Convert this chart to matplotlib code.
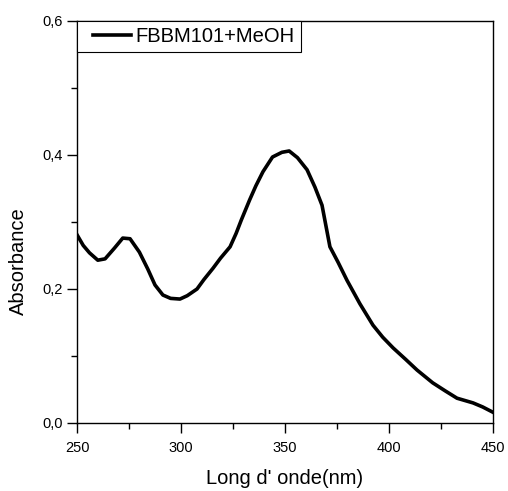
import matplotlib
matplotlib.use("Agg")
import matplotlib.pyplot as plt
from matplotlib.ticker import MultipleLocator, FuncFormatter
from matplotlib.legend_handler import HandlerLine2D
import numpy as np

plt.rcParams['font.family'] = ['Liberation Sans', 'DejaVu Sans']

wavelength = [250, 253, 256, 260, 263.5, 268, 272, 275.5, 280, 284, 287.5, 291.3, 295, 299.5,
              303, 307.7, 311, 315.4, 319, 323.6, 326.5, 329, 333, 336, 339.4, 344, 348.5, 352,
              356, 360.6, 364.4, 367.8, 371.6, 375.5, 379.8, 386, 392.3, 397, 402, 408,
              413.5, 421, 427, 432.7, 440.4, 445, 450]
absorbance = [0.281, 0.265, 0.254, 0.243, 0.245, 0.261, 0.276, 0.275, 0.255, 0.230, 0.206, 0.191,
              0.186, 0.185, 0.190, 0.200, 0.214, 0.231, 0.246, 0.263, 0.283, 0.303, 0.333, 0.354,
              0.375, 0.397, 0.404, 0.406, 0.396, 0.378, 0.352, 0.325, 0.263, 0.240, 0.213, 0.178,
              0.146, 0.128, 0.112, 0.095, 0.079, 0.060, 0.048, 0.037, 0.030, 0.024, 0.016]
series_label = "FBBM101+MeOH"


class OffsetLineHandler(HandlerLine2D):
    def get_xdata(self, legend, xdescent, ydescent, width, height, fontsize):
        start = -xdescent + width * 0.2
        xdata = np.array([start, -xdescent + width])
        return xdata, xdata


fig = plt.figure(figsize=(5.08, 4.91), dpi=100)
ax = fig.add_axes([77/508, 1 - 423/491, 416/508, 402/491])

line, = ax.plot(wavelength, absorbance, color='black', lw=2.6, label=series_label,
                solid_joinstyle='round')

ax.set_xlim(250, 450)
ax.set_ylim(0.0, 0.6)
ax.xaxis.set_major_locator(MultipleLocator(50))
ax.xaxis.set_minor_locator(MultipleLocator(25))
ax.yaxis.set_major_locator(MultipleLocator(0.2))
ax.yaxis.set_minor_locator(MultipleLocator(0.1))
ax.yaxis.set_major_formatter(FuncFormatter(lambda v, p: f"{v:.1f}".replace('.', ',')))
ax.tick_params(which='both', direction='out', width=1, labelsize=10.5, pad=3)
ax.tick_params(which='major', length=7)
ax.tick_params(which='minor', length=4.5)
ax.tick_params(axis='x', pad=6)
for s in ax.spines.values():
    s.set_linewidth(1)

ax.set_xlabel("Long d' onde(nm)", fontsize=14.5, labelpad=10)
ax.set_ylabel("Absorbance", fontsize=14.5)
ax.yaxis.set_label_coords(-0.118, 0.403)

leg = ax.legend(loc='upper left', borderaxespad=0, fontsize=14.5, handlelength=2.4,
                handletextpad=0.2, fancybox=False, edgecolor='black', framealpha=1,
                borderpad=0.3, handler_map={line: OffsetLineHandler()})
leg.get_frame().set_linewidth(0.8)

fig.savefig("out.png", dpi=100)
